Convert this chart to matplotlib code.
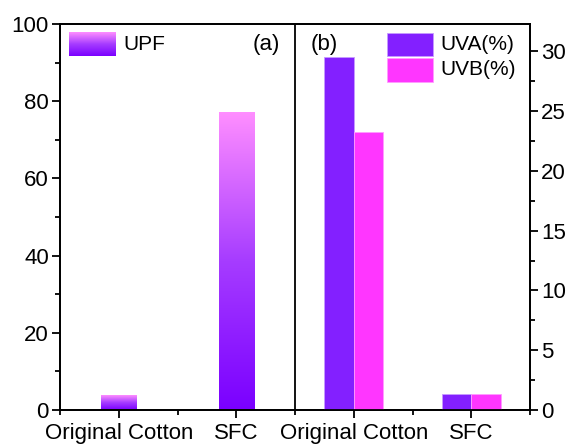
import numpy as np
import matplotlib
matplotlib.use("Agg")
import matplotlib.pyplot as plt
from matplotlib.colors import LinearSegmentedColormap

plt.rcParams['font.family'] = ['Liberation Sans', 'DejaVu Sans']

# data
categories = ["Original Cotton", "SFC", "Original Cotton", "SFC"]
upf_samples = ["Original Cotton", "SFC"]
upf_values = [3.8, 77.1]
uv_samples = ["Original Cotton", "SFC"]
uva_values = [29.5, 1.33]
uvb_values = [23.3, 1.33]

grad_cmap = LinearSegmentedColormap.from_list("upf", ["#7a00ff", "#a63cff", "#ff8eff"])
uva_color = "#8320ff"
uvb_color = "#ff36ff"

fig = plt.figure(figsize=(5.7, 4.44), dpi=100)
ax = fig.add_axes([60/570, 1-410/444, 470/570, 386/444])
ax2 = ax.twinx()

pos_upf = np.arange(1, len(upf_values) + 1)
pos_uv = np.arange(len(upf_values) + 1, len(upf_values) + len(uva_values) + 1)

ax.set_xlim(0.5, 4.5)
ax.set_ylim(0, 100)
ax2.set_ylim(0, 32.3)

bars = ax.bar(pos_upf, upf_values, width=0.3, color="none", edgecolor="none", zorder=2)
grad = np.linspace(0, 1, 256).reshape(-1, 1)
for b in bars:
    x0, y0 = b.get_x(), b.get_y()
    w, h = b.get_width(), b.get_height()
    im = ax.imshow(grad, cmap=grad_cmap, origin="lower", aspect="auto",
                   extent=[x0, x0 + w, y0, y0 + h], zorder=2)
    im.set_clip_path(b)

bw = 0.25
ax2.bar(pos_uv - bw/2, uva_values, width=bw, color=uva_color, edgecolor="#c79bff", linewidth=0.6, zorder=2)
ax2.bar(pos_uv + bw/2, uvb_values, width=bw, color=uvb_color, edgecolor="#ff9cff", linewidth=0.6, zorder=2)
ax.set_xlim(0.5, 4.5)

ax.axvline(2.5, color="black", linewidth=1.3, zorder=3)

# ticks
ax.set_xticks(np.arange(1, 5))
ax.set_xticklabels(categories)
ax.set_xticks(np.arange(0.5, 4.6, 1.0), minor=True)
ax.set_yticks(np.arange(0, 101, 20))
ax.set_yticks(np.arange(10, 100, 20), minor=True)
ax2.set_yticks(np.arange(0, 31, 5))
ax2.set_yticks(np.arange(2.5, 32.3, 5), minor=True)

for a in (ax, ax2):
    a.tick_params(axis="both", which="major", direction="out", length=6, width=1.3, labelsize=16, pad=2)
    a.tick_params(axis="both", which="minor", direction="out", length=3.5, width=1.3)
    for s in a.spines.values():
        s.set_linewidth(1.3)
ax.tick_params(axis="x", which="major", pad=3)
ax.tick_params(axis="y", right=False, which="both")
ax2.tick_params(axis="y", left=False, which="both")

# legends
tr = ax.transAxes
lg = ax.imshow(grad, cmap=grad_cmap, origin="lower", aspect="auto",
               extent=[0.019, 0.117, 0.917, 0.977], transform=tr, zorder=4)
ax.text(0.134, 0.946, "UPF", transform=tr, fontsize=15, va="center", ha="left")
ax.text(0.438, 0.946, "(a)", transform=tr, fontsize=16, va="center", ha="center")
ax.text(0.562, 0.946, "(b)", transform=tr, fontsize=16, va="center", ha="center")

from matplotlib.patches import Rectangle
ax.add_patch(Rectangle((0.696, 0.917), 0.098, 0.060, transform=tr, facecolor=uva_color,
                       edgecolor="#c79bff", linewidth=0.6, zorder=4))
ax.add_patch(Rectangle((0.696, 0.850), 0.098, 0.062, transform=tr, facecolor=uvb_color,
                       edgecolor="#ff9cff", linewidth=0.6, zorder=4))
ax.text(0.809, 0.946, "UVA(%)", transform=tr, fontsize=15, va="center", ha="left")
ax.text(0.809, 0.881, "UVB(%)", transform=tr, fontsize=15, va="center", ha="left")

ax.set_xlim(0.5, 4.5)
ax.set_ylim(0, 100)

fig.savefig("out.png", dpi=100)
